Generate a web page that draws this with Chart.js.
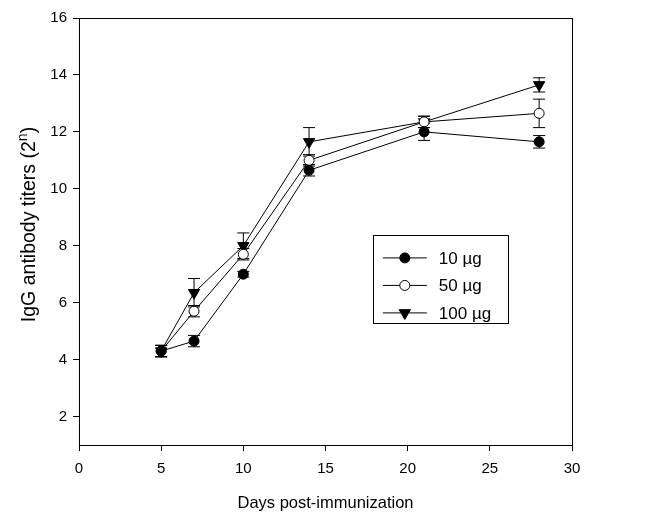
<!DOCTYPE html>
<html>
<head>
<meta charset="utf-8">
<script src="https://cdn.jsdelivr.net/npm/chart.js@4.4.1/dist/chart.umd.min.js"></script>
<style>
  html, body { margin: 0; padding: 0; background: #fff; }
  #wrap { width: 652px; height: 515px; }
</style>
</head>
<body>
<div id="wrap"><canvas id="titerChart" width="652" height="515"></canvas></div>
<script>
const days = [5, 7, 10, 14, 21, 28];
const titer10 = [4.3, 4.65, 7.0, 10.65, 12.0, 11.65];
const err10 = [0.2, 0.2, 0.1, 0.2, 0.3, 0.22];
const titer50 = [4.3, 5.7, 7.7, 11.0, 12.35, 12.65];
const err50 = [0.2, 0.2, 0.2, 0.2, 0.2, 0.5];
const titer100 = [4.3, 6.35, 8.0, 11.65, 12.35, 13.65];
const err100 = [0.2, 0.5, 0.45, 0.5, 0.2, 0.25];
const yTicks = [2, 4, 6, 8, 10, 12, 14, 16];
const seriesNames = ['10 µg', '50 µg', '100 µg'];
const yTitle = ['IgG antibody titers (2', 'n', ')'];

const FONT = '"Liberation Sans", Arial, sans-serif';

function points(vals) {
  return days.map((d, i) => ({ x: d, y: vals[i] }));
}

// error bars drawn under the markers
const errorBars = {
  id: 'errorBars',
  beforeDatasetsDraw(chart) {
    const ctx = chart.ctx;
    const xs = chart.scales.x, ys = chart.scales.y;
    ctx.save();
    ctx.strokeStyle = '#000';
    ctx.lineWidth = 1;
    chart.data.datasets.forEach(ds => {
      ds.data.forEach((p, j) => {
        const e = ds.errors[j];
        const px = xs.getPixelForValue(p.x);
        const top = ys.getPixelForValue(p.y + e);
        const bot = ys.getPixelForValue(p.y - e);
        ctx.beginPath();
        ctx.moveTo(px, top); ctx.lineTo(px, bot);
        ctx.moveTo(px - 6, top); ctx.lineTo(px + 6, top);
        ctx.moveTo(px - 6, bot); ctx.lineTo(px + 6, bot);
        ctx.stroke();
      });
    });
    ctx.restore();
  }
};

function marker(ctx, style, fill, x, y) {
  ctx.beginPath();
  if (style === 'triangle') {
    const r = 6.5;
    ctx.moveTo(x - r * 0.866, y - r * 0.5);
    ctx.lineTo(x + r * 0.866, y - r * 0.5);
    ctx.lineTo(x, y + r);
    ctx.closePath();
  } else {
    ctx.arc(x, y, 5, 0, Math.PI * 2);
  }
  ctx.fillStyle = fill;
  ctx.fill();
  ctx.stroke();
}

// frame, boxed legend and the y title with its superscript
const frameLegend = {
  id: 'frameLegend',
  afterDraw(chart) {
    const ctx = chart.ctx;
    const a = chart.chartArea;
    const w = a.right - a.left, h = a.bottom - a.top;
    ctx.save();
    ctx.strokeStyle = '#000';
    ctx.lineWidth = 1;
    ctx.strokeRect(a.left + 0.5, a.top + 0.5, w, h);

    const bx = a.left + w * 0.596, by = a.top + h * 0.508;
    const bw = w * 0.274, bh = h * 0.206;
    ctx.strokeRect(Math.round(bx) + 0.5, Math.round(by) + 0.5, Math.round(bw), Math.round(bh));
    ctx.font = '17px ' + FONT;
    ctx.textBaseline = 'middle';
    chart.data.datasets.forEach((ds, i) => {
      const ry = by + 23 + i * 27.5;
      ctx.beginPath();
      ctx.moveTo(bx + 10, ry); ctx.lineTo(bx + 54, ry);
      ctx.stroke();
      marker(ctx, ds.pointStyle, ds.pointBackgroundColor, bx + 32, ry);
      ctx.fillStyle = '#000';
      ctx.fillText(ds.label, bx + 66, ry + 1);
    });

    // y axis title
    const big = '19.5px ' + FONT, small = '14px ' + FONT;
    ctx.font = big;
    const w0 = ctx.measureText(yTitle[0]).width;
    const w2 = ctx.measureText(yTitle[2]).width;
    ctx.font = small;
    const w1 = ctx.measureText(yTitle[1]).width;
    const total = w0 + w1 + w2;
    ctx.translate(28, (a.top + a.bottom) / 2 - 7);
    ctx.rotate(-Math.PI / 2);
    ctx.fillStyle = '#000';
    ctx.textBaseline = 'alphabetic';
    let tx = -total / 2;
    ctx.font = big;
    ctx.fillText(yTitle[0], tx, 7);
    tx += w0;
    ctx.font = small;
    ctx.fillText(yTitle[1], tx, -1);
    tx += w1;
    ctx.font = big;
    ctx.fillText(yTitle[2], tx, 7);
    ctx.restore();
  }
};

const baseSet = {
  borderColor: '#000',
  borderWidth: 1,
  pointBorderColor: '#000',
  pointBorderWidth: 1,
  tension: 0,
  fill: false
};

new Chart(document.getElementById('titerChart'), {
  type: 'line',
  data: {
    datasets: [
      Object.assign({}, baseSet, {
        label: seriesNames[0], data: points(titer10), errors: err10,
        pointStyle: 'circle', pointRadius: 5, pointBackgroundColor: '#000'
      }),
      Object.assign({}, baseSet, {
        label: seriesNames[1], data: points(titer50), errors: err50,
        pointStyle: 'circle', pointRadius: 5, pointBackgroundColor: '#fff'
      }),
      Object.assign({}, baseSet, {
        label: seriesNames[2], data: points(titer100), errors: err100,
        pointStyle: 'triangle', pointRotation: 180, pointRadius: 6.5, pointBackgroundColor: '#000'
      })
    ]
  },
  plugins: [errorBars, frameLegend],
  options: {
    responsive: false,
    animation: false,
    layout: { padding: { left: 0, right: 80, top: 18, bottom: 2 } },
    plugins: {
      legend: { display: false },
      title: { display: false },
      tooltip: { enabled: false }
    },
    scales: {
      x: {
        type: 'linear',
        min: 0, max: 30,
        ticks: { stepSize: 5, color: '#000', padding: 9, font: { family: FONT, size: 15 } },
        grid: { drawOnChartArea: false, color: '#000', tickLength: 6 },
        border: { color: '#000' },
        title: {
          display: true, text: 'Days post-immunization', color: '#000',
          padding: { top: 4, bottom: 0 },
          font: { family: FONT, size: 16.5 }
        },
        afterFit(scale) { scale.height = 68; }
      },
      y: {
        min: 1, max: 16,
        afterBuildTicks(scale) { scale.ticks = yTicks.map(v => ({ value: v })); },
        ticks: { color: '#000', padding: 6, font: { family: FONT, size: 15 } },
        grid: { drawOnChartArea: false, color: '#000', tickLength: 6 },
        border: { color: '#000' },
        afterFit(scale) { scale.width = 79; }
      }
    }
  }
});
</script>
</body>
</html>
